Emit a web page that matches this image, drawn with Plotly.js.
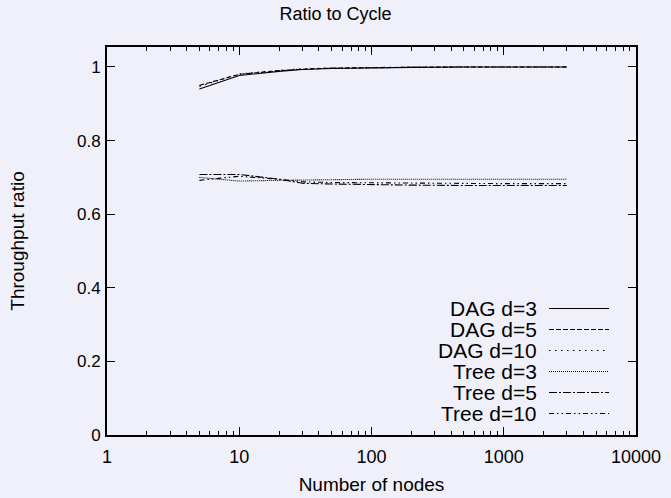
<!DOCTYPE html>
<html>
<head>
<meta charset="utf-8">
<script src="https://cdn.plot.ly/plotly-3.0.1.min.js"></script>
<style>html,body{margin:0;padding:0;background:#f0f0fa;}</style>
</head>
<body>
<div id="chart" style="width:671px;height:498px;"></div>
<script>
const nodes = [5, 10, 20, 30, 50, 100, 200, 500, 1000, 2000, 3000];
const seriesNames = ["DAG d=3", "DAG d=5", "DAG d=10", "Tree d=3", "Tree d=5", "Tree d=10"];
const dagD3  = [0.940, 0.977, 0.988, 0.993, 0.996, 0.998, 0.999, 1.000, 1.000, 1.000, 1.000];
const dagD5  = [0.950, 0.980, 0.990, 0.994, 0.997, 0.999, 0.999, 1.000, 1.000, 1.000, 1.000];
const dagD10 = [0.947, 0.981, 0.991, 0.995, 0.997, 0.999, 1.000, 1.000, 1.000, 1.000, 1.000];
const treeD3 = [0.700, 0.690, 0.692, 0.693, 0.694, 0.695, 0.695, 0.695, 0.695, 0.695, 0.695];
const treeD5 = [0.708, 0.708, 0.695, 0.684, 0.682, 0.680, 0.679, 0.678, 0.678, 0.678, 0.678];
const treeD10= [0.692, 0.703, 0.695, 0.688, 0.686, 0.685, 0.684, 0.683, 0.683, 0.683, 0.683];
const seriesValues = [dagD3, dagD5, dagD10, treeD3, treeD5, treeD10];
const yTicks = [0, 0.2, 0.4, 0.6, 0.8, 1];
const xTicks = [1, 10, 100, 1000, 10000];
const xTickLabels = ["1", "10", "100", "1000", "10000"];

const dashes = ["solid", "5px,2px", "1.5px,4.5px", "1px,1px", "8px,2px,2px,2px", "5px,3px,1.5px,3px,1.5px,3px"];
const FONT = "Liberation Sans, Arial, sans-serif";

const traces = seriesNames.map((n, i) => ({
  x: nodes, y: seriesValues[i], name: n, type: "scatter", mode: "lines",
  line: {color: "#000", width: 1.1, dash: dashes[i]}, showlegend: false
}));

// manual legend (text left of sample line, like gnuplot)
const L = 107, R = 636, T = 47, B = 435;
const px = v => (v - L) / (R - L);
const py = v => (B - v) / (B - T);
const rowY = [308, 329, 350, 371, 392, 413];
const annotations = [], shapes = [];
seriesNames.forEach((n, i) => {
  annotations.push({xref: "paper", yref: "paper", x: px(538), y: py(rowY[i]), xanchor: "right", yanchor: "middle",
    text: n, showarrow: false, borderpad: 0, font: {family: FONT, size: 21, color: "#000"}});
  shapes.push({type: "line", xref: "paper", yref: "paper", x0: px(549), x1: px(609), y0: py(rowY[i] + 0.5), y1: py(rowY[i] + 0.5),
    line: {color: "#000", width: 1.1, dash: dashes[i]}});
});

const layout = {
  width: 671, height: 498,
  paper_bgcolor: "#f0f0fa", plot_bgcolor: "#f0f0fa",
  margin: {l: L, r: 671 - R, t: T, b: 498 - B},
  font: {family: FONT, size: 18, color: "#000"},
  title: {text: "Ratio to Cycle", x: 0.5, xref: "container", y: 0.972, yanchor: "middle", font: {family: FONT, size: 18}},
  showlegend: false,
  xaxis: {
    type: "log", range: [0, 4], tickvals: xTicks, ticktext: xTickLabels,
    ticks: "inside", ticklen: 8, tickwidth: 1, tickcolor: "#000",
    showline: true, linewidth: 2, linecolor: "#000", mirror: "allticks",
    showgrid: false, zeroline: false, ticklabelstandoff: 4,
    tickfont: {family: FONT, size: 18},
    minor: {ticks: "inside", ticklen: 4, tickwidth: 1, tickcolor: "#000", dtick: "D1", showgrid: false},
    title: {text: "Number of nodes", standoff: 12, font: {family: FONT, size: 19}}
  },
  yaxis: {
    range: [0, 1.0543], tickvals: yTicks, ticktext: yTicks.map(v => String(v)),
    ticks: "inside", ticklen: 8, tickwidth: 1, tickcolor: "#000",
    showline: true, linewidth: 2, linecolor: "#000", mirror: "allticks",
    showgrid: false, zeroline: false, ticklabelstandoff: 1,
    tickfont: {family: FONT, size: 17},
    title: {text: "Throughput ratio", standoff: 47, font: {family: FONT, size: 19}}
  },
  annotations: annotations, shapes: shapes
};

Plotly.newPlot("chart", traces, layout, {displayModeBar: false, staticPlot: true});
</script>
</body>
</html>
